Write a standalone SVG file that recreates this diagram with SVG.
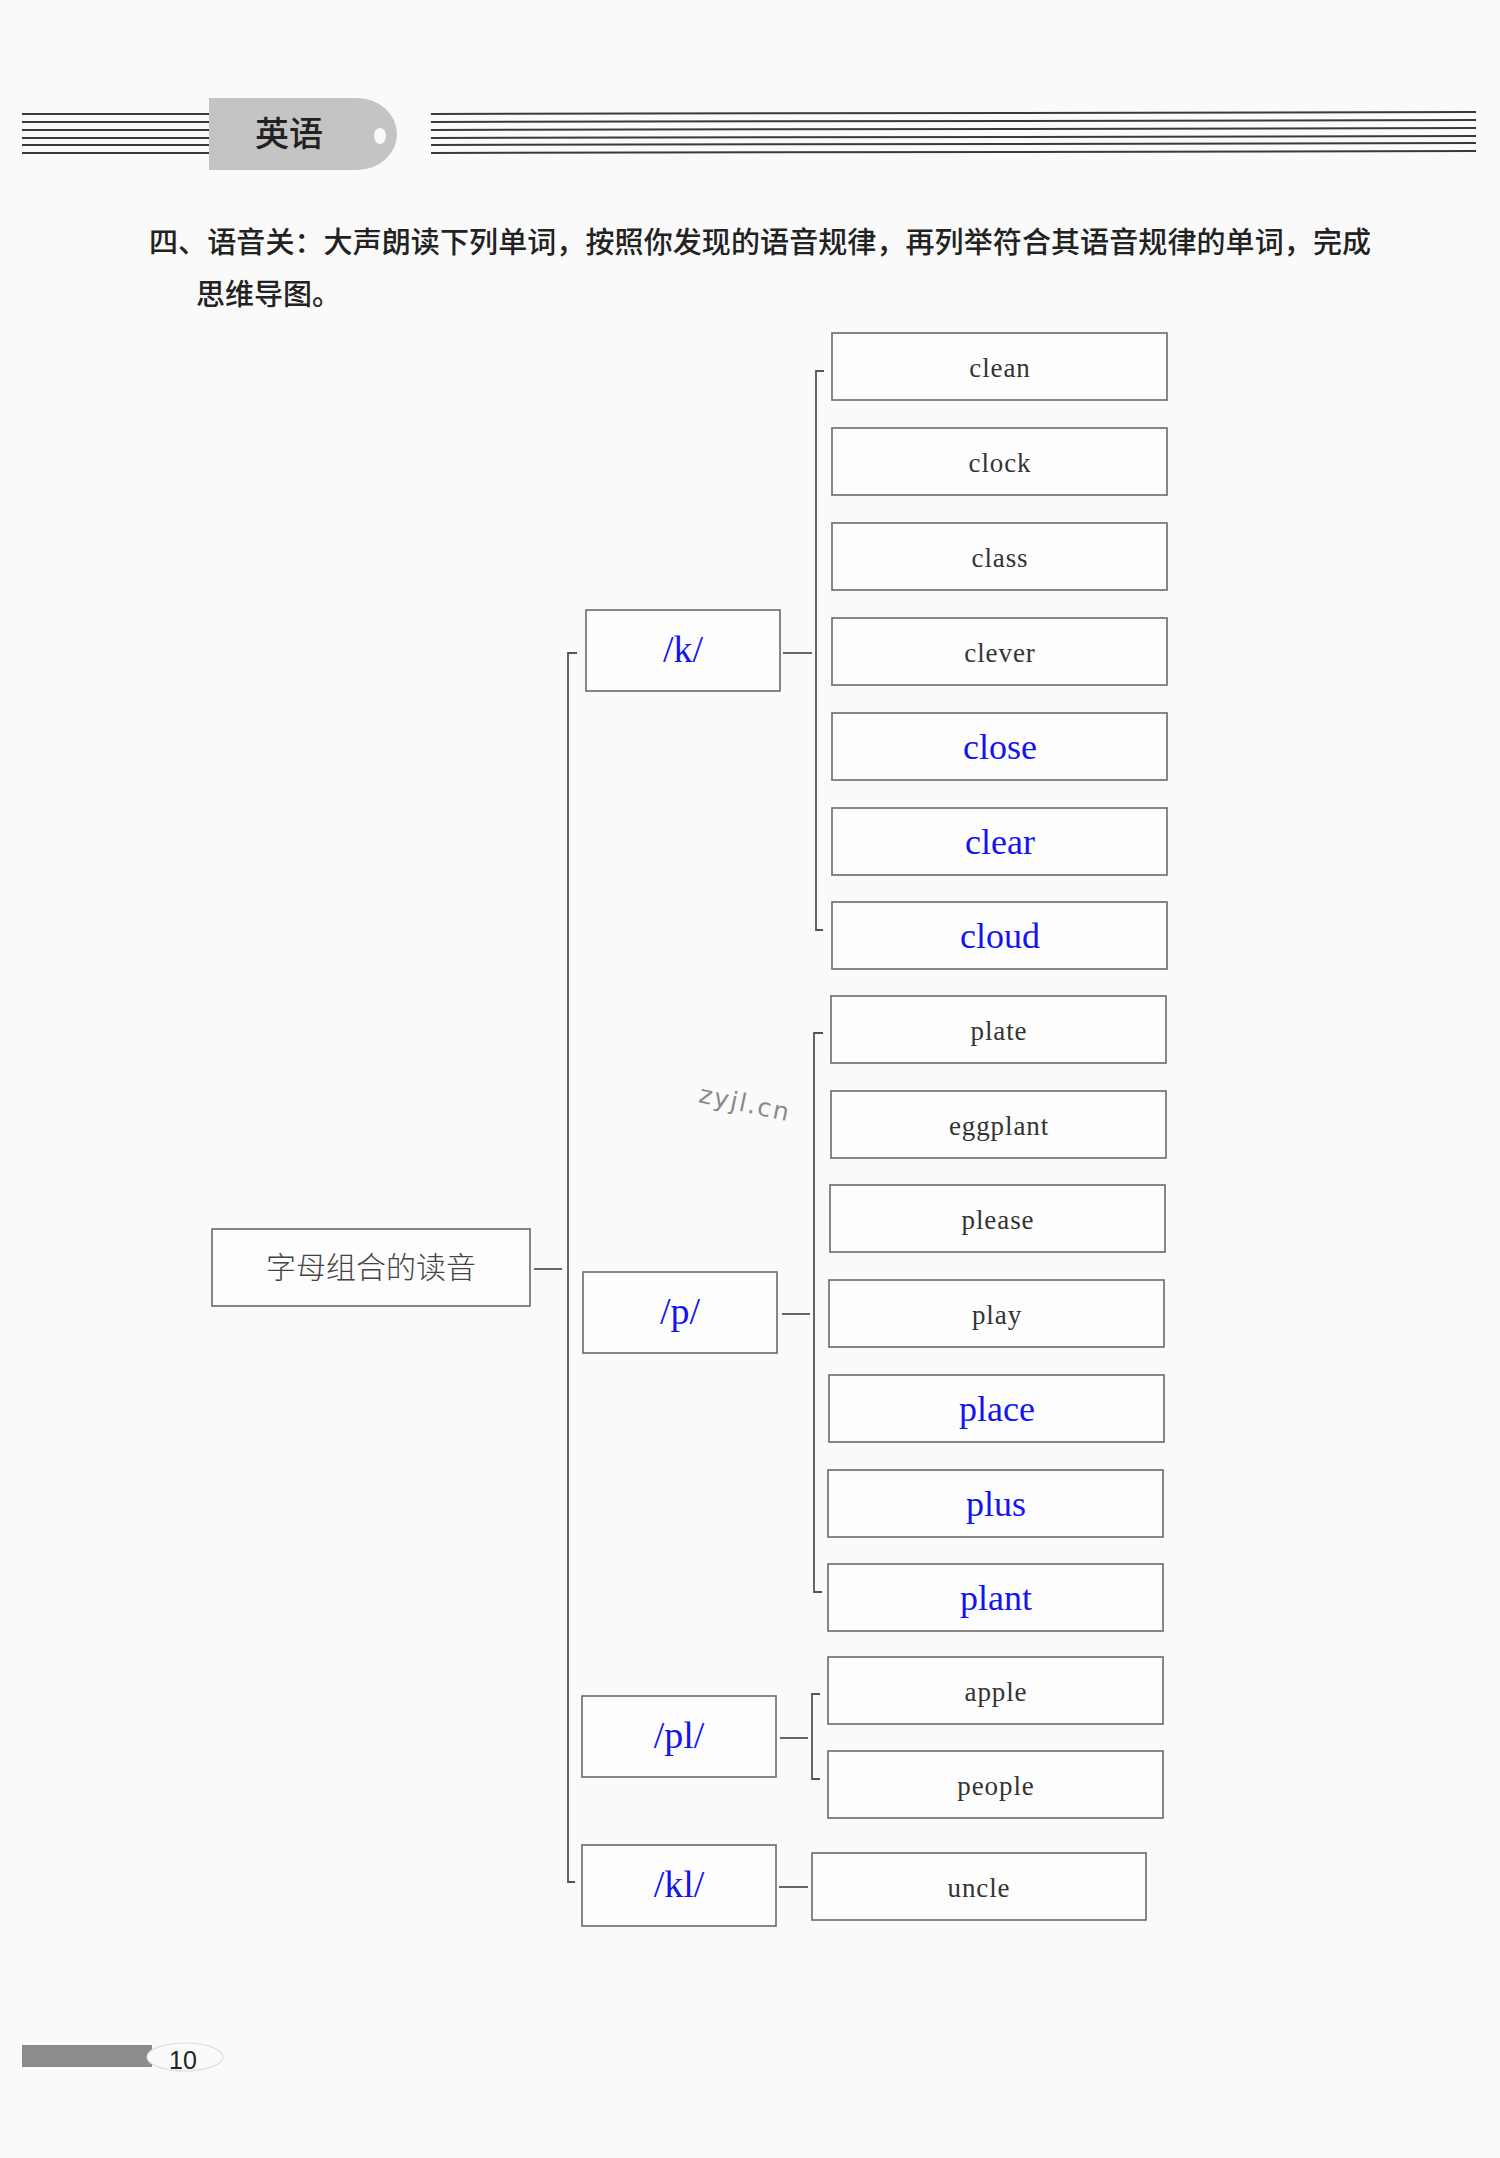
<svg xmlns="http://www.w3.org/2000/svg" width="1500" height="2158" viewBox="0 0 1500 2158">
<style>
.box{fill:#fdfdfd;stroke:#6a6a6a;stroke-width:1.6}
.w{font-family:"Liberation Serif",serif;font-size:27px;fill:#333;text-anchor:middle;letter-spacing:0.9px}
.b{font-family:"Liberation Serif",serif;font-size:36px;fill:#1414f0;text-anchor:middle}
.ph{font-family:"Liberation Serif",serif;font-size:38px;fill:#1414f0;text-anchor:middle}
.con{fill:none;stroke:#555;stroke-width:1.8}
.hl{stroke:#3a3a3a;stroke-width:2}
</style>
<rect width="1500" height="2158" fill="#fafafa"/>
<g id="header">
<g class="hl">
<line x1="22" y1="114" x2="209" y2="114"/>
<line x1="22" y1="122" x2="209" y2="122"/>
<line x1="22" y1="130" x2="209" y2="130"/>
<line x1="22" y1="138" x2="209" y2="138"/>
<line x1="22" y1="145" x2="209" y2="145"/>
<line x1="22" y1="153" x2="209" y2="153"/>
<line x1="431" y1="114" x2="1476" y2="112"/>
<line x1="431" y1="122" x2="1476" y2="120"/>
<line x1="431" y1="130" x2="1476" y2="128"/>
<line x1="431" y1="138" x2="1476" y2="136"/>
<line x1="431" y1="145" x2="1476" y2="143"/>
<line x1="431" y1="153" x2="1476" y2="151"/>
</g>
<path d="M209,98 H357 A40,36 0 0 1 397,134 A40,36 0 0 1 357,170 H209 Z" fill="#c4c4c4"/>
<ellipse cx="380" cy="136" rx="6" ry="8" fill="#fafafa"/>
<text x="289" y="146" font-family="Noto Sans CJK SC, sans-serif" font-size="34" font-weight="500" fill="#222" text-anchor="middle">英语</text>
</g>
<g id="instruction" font-family="Noto Sans CJK SC, sans-serif" font-size="29" font-weight="500" fill="#222">
<text x="149" y="253" textLength="1222" lengthAdjust="spacing">四、语音关：大声朗读下列单词，按照你发现的语音规律，再列举符合其语音规律的单词，完成</text>
<text x="196" y="305">思维导图。</text>
</g>
<g id="connectors">
<path class="con" d="M534,1269 H562"/>
<path class="con" d="M577,653 H568 V1882 H575"/>
<path class="con" d="M783,653 H812"/>
<path class="con" d="M824,371 H816 V930 H823"/>
<path class="con" d="M782,1314 H810"/>
<path class="con" d="M823,1033 H814 V1592 H822"/>
<path class="con" d="M780,1738 H808"/>
<path class="con" d="M820,1694 H812 V1779 H820"/>
<path class="con" d="M779,1887 H808"/>
</g>
<g id="root"><rect class="box" x="212" y="1229" width="318" height="77"/>
<text x="371" y="1278" font-family="Noto Sans CJK SC, sans-serif" font-size="30" font-weight="300" fill="#444" text-anchor="middle">字母组合的读音</text></g>
<g id="k"><rect class="box" x="586" y="610" width="194" height="81"/><text class="ph" x="683" y="662">/k/</text></g>
<g id="p"><rect class="box" x="583" y="1272" width="194" height="81"/><text class="ph" x="680" y="1324">/p/</text></g>
<g id="pl"><rect class="box" x="582" y="1696" width="194" height="81"/><text class="ph" x="679" y="1748">/pl/</text></g>
<g id="kl"><rect class="box" x="582" y="1845" width="194" height="81"/><text class="ph" x="679" y="1897">/kl/</text></g>
<g id="clean"><rect class="box" x="832" y="333" width="335" height="67"/><text class="w" x="1000" y="377">clean</text></g>
<g id="clock"><rect class="box" x="832" y="428" width="335" height="67"/><text class="w" x="1000" y="472">clock</text></g>
<g id="class"><rect class="box" x="832" y="523" width="335" height="67"/><text class="w" x="1000" y="567">class</text></g>
<g id="clever"><rect class="box" x="832" y="618" width="335" height="67"/><text class="w" x="1000" y="662">clever</text></g>
<g id="close"><rect class="box" x="832" y="713" width="335" height="67"/><text class="b" x="1000" y="759">close</text></g>
<g id="clear"><rect class="box" x="832" y="808" width="335" height="67"/><text class="b" x="1000" y="854">clear</text></g>
<g id="cloud"><rect class="box" x="832" y="902" width="335" height="67"/><text class="b" x="1000" y="948">cloud</text></g>
<g id="plate"><rect class="box" x="831" y="996" width="335" height="67"/><text class="w" x="999" y="1040">plate</text></g>
<g id="eggplant"><rect class="box" x="831" y="1091" width="335" height="67"/><text class="w" x="999" y="1135">eggplant</text></g>
<g id="please"><rect class="box" x="830" y="1185" width="335" height="67"/><text class="w" x="998" y="1229">please</text></g>
<g id="play"><rect class="box" x="829" y="1280" width="335" height="67"/><text class="w" x="997" y="1324">play</text></g>
<g id="place"><rect class="box" x="829" y="1375" width="335" height="67"/><text class="b" x="997" y="1421">place</text></g>
<g id="plus"><rect class="box" x="828" y="1470" width="335" height="67"/><text class="b" x="996" y="1516">plus</text></g>
<g id="plant"><rect class="box" x="828" y="1564" width="335" height="67"/><text class="b" x="996" y="1610">plant</text></g>
<g id="apple"><rect class="box" x="828" y="1657" width="335" height="67"/><text class="w" x="996" y="1701">apple</text></g>
<g id="people"><rect class="box" x="828" y="1751" width="335" height="67"/><text class="w" x="996" y="1795">people</text></g>
<g id="uncle"><rect class="box" x="812" y="1853" width="334" height="67"/><text class="w" x="979" y="1897">uncle</text></g>
<text x="745" y="1112" transform="rotate(12 745 1104)" font-family="DejaVu Sans, sans-serif" font-size="25" fill="#8a8a8a" text-anchor="middle" letter-spacing="2">zyjl.cn</text>
<g id="footer">
<rect x="22" y="2045" width="130" height="22" fill="#8c8c8c"/>
<ellipse cx="185" cy="2057" rx="38" ry="14" fill="#fafafa" stroke="#ddd" stroke-width="1.2"/>
<text x="183" y="2069" font-family="Liberation Sans, sans-serif" font-size="25" fill="#222" text-anchor="middle">10</text>
</g>
</svg>
